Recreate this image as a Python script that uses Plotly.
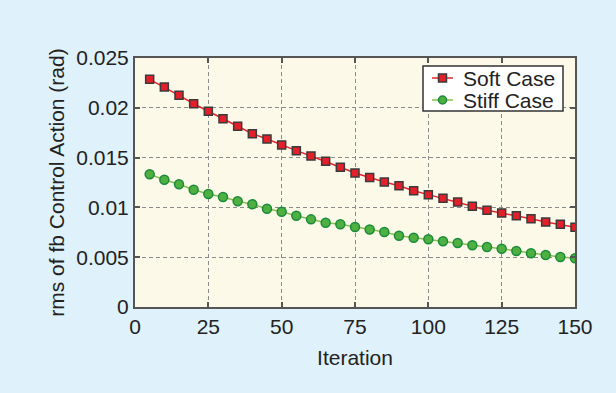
import plotly.graph_objects as go

iterations = list(range(5, 151, 5))
soft_case = [0.02286, 0.02209, 0.02125, 0.02041, 0.01965, 0.01891, 0.01814, 0.0174,
             0.01687, 0.01627, 0.0157, 0.01516, 0.01463, 0.01403, 0.01345, 0.01300,
             0.01255, 0.01218, 0.01168, 0.01128, 0.01091, 0.01054, 0.01011, 0.00971,
             0.00944, 0.00917, 0.00887, 0.00853, 0.0083, 0.0080]
stiff_case = [0.01332, 0.01278, 0.01232, 0.01178, 0.01135, 0.01104, 0.01061, 0.01031,
              0.00987, 0.00957, 0.00917, 0.0088, 0.00846, 0.0083, 0.00803, 0.00778,
              0.00753, 0.00716, 0.00696, 0.0068, 0.0066, 0.00643, 0.0062, 0.00602,
              0.00585, 0.00562, 0.00539, 0.00522, 0.00502, 0.00489]
series_names = ["Soft Case", "Stiff Case"]

x_ticks = [0, 25, 50, 75, 100, 125, 150]
y_ticks = [0, 0.005, 0.01, 0.015, 0.02, 0.025]
y_tick_labels = ["0", "0.005", "0.01", "0.015", "0.02", "0.025"]

FONT = "Liberation Sans, Arial, sans-serif"
TXT = "#222222"
W, H = 616, 393
ML, MR, MT, MB = 135, 41, 58, 86
PW, PH = W - ML - MR, H - MT - MB

SOFT_LINE, SOFT_FILL, SOFT_EDGE = "#E3262E", "#E3202A", "#3a3a3a"
STIFF_LINE, STIFF_FILL, STIFF_EDGE = "#86C04E", "#4DB040", "#1C8A3C"

fig = go.Figure()
fig.add_trace(go.Scatter(
    x=iterations, y=soft_case, name=series_names[0], mode="lines+markers",
    line=dict(color=SOFT_LINE, width=1.5),
    marker=dict(symbol="square", size=8, color=SOFT_FILL,
                line=dict(color=SOFT_EDGE, width=1.5)),
))
fig.add_trace(go.Scatter(
    x=iterations, y=stiff_case, name=series_names[1], mode="lines+markers",
    line=dict(color=STIFF_LINE, width=1.5),
    marker=dict(symbol="circle", size=9, color=STIFF_FILL,
                line=dict(color=STIFF_EDGE, width=1.5)),
))

axis_common = dict(
    showline=True, linecolor="#555555", linewidth=2, mirror="ticks",
    ticks="inside", ticklen=5, tickcolor="#555555", tickwidth=1.5,
    showgrid=True, gridcolor="#8c8c8c", gridwidth=1, griddash="4px,3px",
    zeroline=False,
    tickfont=dict(family=FONT, size=21, color=TXT),
)

fig.update_xaxes(
    range=[0, 150], tickvals=x_ticks,
    title=dict(text="Iteration", font=dict(family=FONT, size=21, color=TXT), standoff=13),
    **axis_common,
)
fig.update_yaxes(
    range=[0, 0.025], tickvals=y_ticks, ticktext=y_tick_labels,
    title=dict(text="rms of fb Control Action (rad)", font=dict(family=FONT, size=21, color=TXT), standoff=6),
    **axis_common,
)

# --- compact legend drawn by hand (pixel positions converted to plot-area fractions)
def px(xp):
    return (xp - ML) / PW

def py(yp):
    return (H - MB - yp) / PH

shapes = [
    dict(type="rect", xref="paper", yref="paper", x0=px(423), x1=px(563), y0=py(111), y1=py(66),
         fillcolor="#FFFFFF", line=dict(color="#333333", width=1.5), layer="above"),
]
annotations = []
rows = [
    (78, series_names[0], SOFT_LINE, SOFT_FILL, SOFT_EDGE, "rect"),
    (100, series_names[1], STIFF_LINE, STIFF_FILL, STIFF_EDGE, "circle"),
]
for yrow, name, lc, fc, ec, sym in rows:
    shapes.append(dict(type="line", xref="paper", yref="paper", x0=px(432), x1=px(453),
                       y0=py(yrow), y1=py(yrow), line=dict(color=lc, width=1.5), layer="above"))
    r = 4
    shapes.append(dict(type=sym, xref="paper", yref="paper", x0=px(442.5 - r), x1=px(442.5 + r),
                       y0=py(yrow + r), y1=py(yrow - r), fillcolor=fc,
                       line=dict(color=ec, width=1.5), layer="above"))
    annotations.append(dict(text=name, xref="paper", yref="paper", x=px(461), y=py(yrow),
                            xanchor="left", yanchor="middle", showarrow=False,
                            font=dict(family=FONT, size=21, color=TXT)))

fig.update_layout(
    width=W, height=H,
    margin=dict(l=ML, r=MR, t=MT, b=MB),
    paper_bgcolor="#DFF1FA",
    plot_bgcolor="#FDF9E9",
    font=dict(family=FONT, size=21, color=TXT),
    showlegend=False,
    shapes=shapes,
    annotations=annotations,
)

fig.write_html("out.html")
